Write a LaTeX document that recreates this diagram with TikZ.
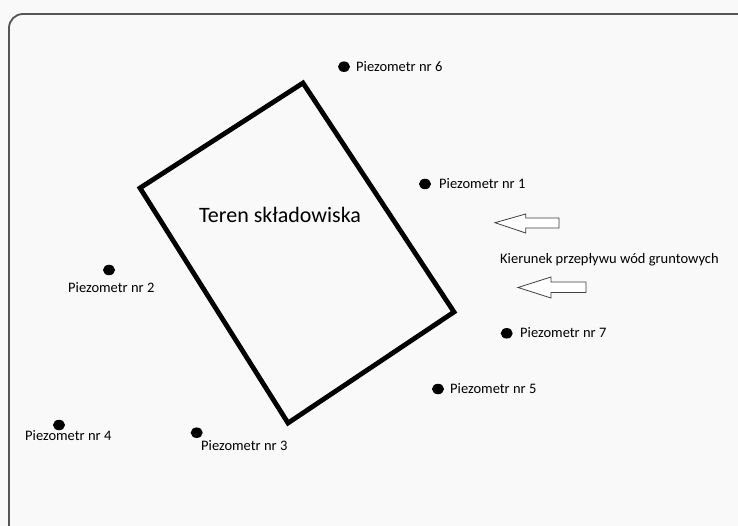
\documentclass[tikz,border=0pt]{standalone}
\usepackage{fontspec}
\usetikzlibrary{shapes.geometric}
\setmainfont{Carlito}
\definecolor{bg}{HTML}{F9F9F9}
\definecolor{framec}{HTML}{555555}
\begin{document}
\begin{tikzpicture}[x=1pt,y=-1pt,
  dot/.style={fill=black,ellipse,minimum width=12pt,minimum height=10.5pt,inner sep=0pt},
  lab/.style={anchor=base west,inner sep=0pt,font=\fontsize{14.5}{16}\selectfont},
  site/.style={line width=4.8pt,line join=miter},
  flow/.style={draw=black!75,line width=0.8pt,fill=white}]
\useasboundingbox (0,0) rectangle (738,526);
\fill[bg] (0,0) rectangle (738,526);
\draw[framec,line width=1.8pt,rounded corners=14pt] (9,526) -- (9,14) -- (738,14);
% site
\coordinate (q1) at (303,83);
\coordinate (q2) at (454,312);
\coordinate (q3) at (288,423);
\coordinate (q4) at (140,188);
\draw[site] (q1) -- (q2) -- (q3) -- (q4) -- cycle;
\node[lab,font=\fontsize{22}{24}\selectfont] (teren) at (199,222.7) {Teren składowiska};
% piezometers
\node[dot] (d6) at (344,66.7) {};
\node[lab] (l6) at (356,71.5) {Piezometr nr 6};
\node[dot] (d1) at (425,184) {};
\node[lab] (l1) at (439,189) {Piezometr nr 1};
\node[dot] (d7) at (506.7,333.3) {};
\node[lab] (l7) at (520,337.7) {Piezometr nr 7};
\node[dot] (d5) at (438,389) {};
\node[lab] (l5) at (450,393.3) {Piezometr nr 5};
\node[dot] (d2) at (109,270) {};
\node[lab] (l2) at (68,292.7) {Piezometr nr 2};
\node[dot] (d4) at (59,425) {};
\node[lab] (l4) at (25,440.7) {Piezometr nr 4};
\node[dot] (d3) at (196.7,432.7) {};
\node[lab] (l3) at (201,450) {Piezometr nr 3};
% flow direction
\draw[flow] (495,222.7) -- (525.7,214) -- (525.7,218) -- (559,218) -- (559,228) -- (525.7,228) -- (525.7,233) -- cycle;
\draw[flow] (518,287.5) -- (551,277) -- (551,282) -- (586,282) -- (586,292.5) -- (551,292.5) -- (551,298) -- cycle;
\node[lab] (kier) at (500,263.3) {Kierunek przepływu wód gruntowych};
\end{tikzpicture}
\end{document}
